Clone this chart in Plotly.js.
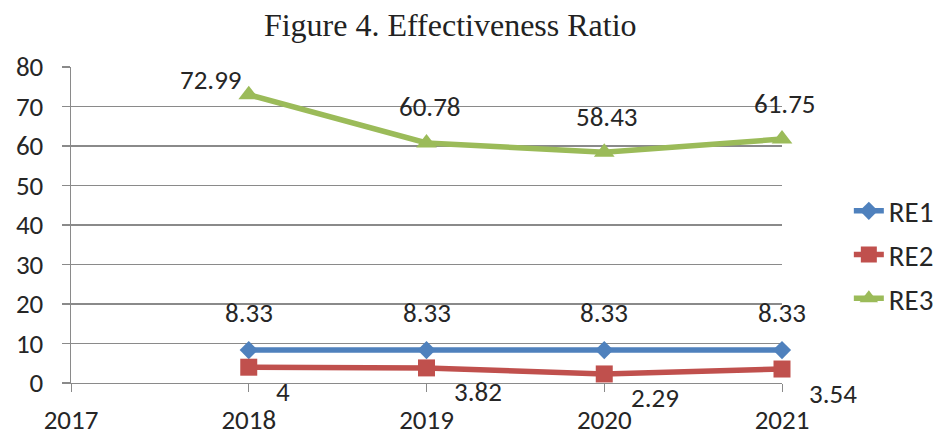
<!DOCTYPE html>
<html>
<head>
<meta charset="utf-8">
<script src="https://cdn.plot.ly/plotly-3.0.1.min.js"></script>
<style>html,body{margin:0;padding:0;background:#fff;}#chart{width:938px;height:435px;}</style>
</head>
<body>
<div id="chart"></div>
<script>
// ---- data ----
var categories = ['2017', '2018', '2019', '2020', '2021'];
var seriesNames = ['RE1', 'RE2', 'RE3'];
var re1 = [null, 8.33, 8.33, 8.33, 8.33];
var re2 = [null, 4, 3.82, 2.29, 3.54];
var re3 = [null, 72.99, 60.78, 58.43, 61.75];
var re1Labels = ['', '8.33', '8.33', '8.33', '8.33'];
var re2Labels = ['', '4', '3.82', '2.29', '3.54'];
var re3Labels = ['', '72.99', '60.78', '58.43', '61.75'];
var yTicks = [0, 10, 20, 30, 40, 50, 60, 70, 80];

// ---- styles ----
var FONT = 'Calibri, Carlito, "Open Sans", sans-serif';
var FS = 27;
var TXT = '#262626';
var GRID = '#8a8a8a';
var colors = ['#4F81BD', '#C0504D', '#9BBB59'];
var symbols = ['diamond', 'square', 'triangle-up'];
var msizes = [14, 17, 18];
var values = [re1, re2, re3];
var labels = [re1Labels, re2Labels, re3Labels];

var traces = values.map(function (v, i) {
  return {
    type: 'scatter', mode: 'lines+markers', name: seriesNames[i],
    x: categories, y: v, cliponaxis: false, connectgaps: false,
    legendgroup: seriesNames[i],
    line: {color: colors[i], width: 5.5},
    marker: {symbol: symbols[i], size: msizes[i], color: colors[i]}
  };
});

var YMAX = 80, PX_PER_UNIT = 316 / 80;
var annotations = [];
values.forEach(function (v, s) {
  v.forEach(function (val, j) {
    if (val === null) return;
    var a = {x: j, y: val, xref: 'x', yref: 'y', text: labels[s][j],
      showarrow: false, font: {family: FONT, size: FS, color: TXT},
      xanchor: 'center', yanchor: 'middle', xshift: 0, yshift: 0};
    if (s === 0) { a.yshift = 38; }
    else if (s === 1) { a.xanchor = 'left'; a.xshift = 25; a.yshift = -24; }
    else {
      if (val + 46 / PX_PER_UNIT > YMAX) { a.xshift = -38; a.yshift = 15; }
      else { a.xshift = 3; a.yshift = 36; }
    }
    annotations.push(a);
  });
});

var layout = {
  width: 938, height: 435,
  paper_bgcolor: '#ffffff', plot_bgcolor: '#ffffff',
  margin: {l: 71, r: 156, t: 67, b: 52, pad: 0, autoexpand: false},
  title: {text: 'Figure 4. Effectiveness Ratio',
    font: {family: '"Liberation Serif", "Times New Roman", serif', size: 32, color: '#222'},
    x: 0.48, xanchor: 'center', xref: 'container', y: 0.9425, yanchor: 'middle', yref: 'container'},
  font: {family: FONT, size: FS, color: TXT},
  showlegend: true,
  legend: {x: 1.094, xanchor: 'left', y: 0.405, yanchor: 'middle',
    font: {family: FONT, size: 29, color: TXT}, tracegroupgap: 3,
    bgcolor: 'rgba(0,0,0,0)', borderwidth: 0},
  xaxis: {type: 'category', categoryorder: 'array', categoryarray: categories,
    range: [0, categories.length - 1], showgrid: false, zeroline: false,
    showline: true, linecolor: GRID, linewidth: 1.3,
    ticks: 'outside', ticklen: 8, tickcolor: GRID, tickwidth: 1,
    ticklabelstandoff: 4,
    tickfont: {family: FONT, size: FS, color: TXT}, fixedrange: true},
  yaxis: {range: [0, YMAX], tickvals: yTicks, showgrid: true, gridcolor: GRID, gridwidth: 1.3,
    zeroline: false, showline: true, linecolor: GRID, linewidth: 1.3,
    ticks: 'outside', ticklen: 8, tickcolor: GRID, tickwidth: 1.3,
    ticklabelstandoff: 13,
    tickfont: {family: FONT, size: FS, color: TXT}, fixedrange: true},
  annotations: annotations
};

Plotly.newPlot('chart', traces, layout, {displayModeBar: false, staticPlot: true});
</script>
</body>
</html>
